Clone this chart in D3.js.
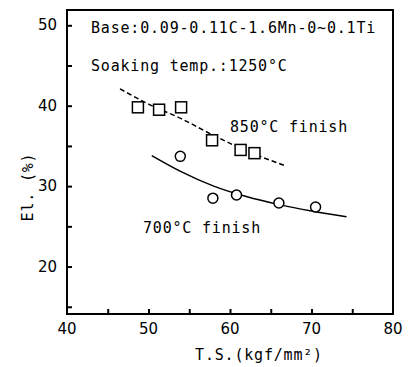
<!DOCTYPE html>
<html>
<head>
<meta charset="utf-8">
<script src="https://cdn.jsdelivr.net/npm/d3@7"></script>
<style>
  body { margin: 0; background: #fff; }
  .mono { font-family: "DejaVu Sans Mono", monospace; font-size: 15px; letter-spacing: 0.8px; }
</style>
</head>
<body>
<svg id="chart" width="410" height="367"></svg>
<script>
// measured points, 850°C finish (squares)
const ts850 = [48.7, 51.3, 54.0, 57.8, 61.3, 63.0];
const el850 = [39.8, 39.5, 39.8, 35.7, 34.5, 34.1];
// measured points, 700°C finish (circles)
const ts700 = [53.9, 57.9, 60.8, 66.0, 70.5];
const el700 = [33.7, 28.5, 28.9, 27.9, 27.4];
// trend lines
const trend850 = [[46.5, 42.1], [50, 40.2], [54, 38.4], [58, 36.3], [62, 34.4], [66.9, 32.5]];
const trend700 = [[50.4, 33.8], [54, 31.8], [58, 30.0], [62, 28.7], [66, 27.7], [70, 26.9], [74.3, 26.2]];
const xTickLabels = [40, 50, 60, 70, 80];
const yTickLabels = [20, 30, 40, 50];

const svg = d3.select("#chart");
const x = d3.scaleLinear().domain([40, 80]).range([67, 393]);
const y = d3.scaleLinear().domain([14.1, 51.9]).range([314, 10]);

// inward ticks every 5 units
const xMinor = d3.range(45, 80, 5);
const yMinor = d3.range(15, 51, 5);

svg.append("g")
  .attr("transform", "translate(0,314)")
  .call(d3.axisTop(x).tickValues(xMinor).tickSize(5).tickFormat(""))
  .call(g => g.select(".domain").remove())
  .selectAll("line").attr("stroke-width", 2);

svg.append("g")
  .attr("transform", "translate(67,0)")
  .call(d3.axisRight(y).tickValues(yMinor).tickSize(5).tickFormat(""))
  .call(g => g.select(".domain").remove())
  .selectAll("line").attr("stroke-width", 2);

// frame
svg.append("rect")
  .attr("x", 67).attr("y", 10)
  .attr("width", 393 - 67).attr("height", 314 - 10)
  .attr("fill", "none").attr("stroke", "#000").attr("stroke-width", 2);

// tick labels
svg.selectAll(".xl").data(xTickLabels).enter().append("text")
  .attr("x", d => x(d)).attr("y", 334)
  .attr("text-anchor", "middle")
  .attr("font-family", "DejaVu Sans").attr("font-size", 15)
  .text(d => d);

svg.selectAll(".yl").data(yTickLabels).enter().append("text")
  .attr("x", 57).attr("y", d => y(d) + 5)
  .attr("text-anchor", "end")
  .attr("font-family", "DejaVu Sans").attr("font-size", 15)
  .text(d => d);

// axis titles
svg.append("text").attr("class", "mono")
  .attr("x", 259).attr("y", 360).attr("text-anchor", "middle")
  .text("T.S.(kgf/mm²)");

svg.append("text").attr("class", "mono")
  .attr("transform", "translate(33,187) rotate(-90)")
  .attr("text-anchor", "middle")
  .text("El. (%)");

// annotations
svg.append("text").attr("class", "mono").attr("x", 91).attr("y", 33)
  .text("Base:0.09-0.11C-1.6Mn-0~0.1Ti");
svg.append("text").attr("class", "mono").attr("x", 91).attr("y", 71)
  .text("Soaking temp.:1250°C");
svg.append("text").attr("class", "mono").attr("x", 230).attr("y", 132)
  .text("850°C finish");
svg.append("text").attr("class", "mono").attr("x", 143).attr("y", 233)
  .text("700°C finish");

// trend lines
const line = d3.line().x(d => x(d[0])).y(d => y(d[1])).curve(d3.curveMonotoneX);

svg.append("path").datum(trend850)
  .attr("d", line).attr("fill", "none").attr("stroke", "#000")
  .attr("stroke-width", 1.5).attr("stroke-dasharray", "5,3");

svg.append("path").datum(trend700)
  .attr("d", line).attr("fill", "none").attr("stroke", "#000")
  .attr("stroke-width", 1.5);

// markers
svg.selectAll(".sq").data(ts850.map((t, i) => [t, el850[i]])).enter().append("rect")
  .attr("x", d => x(d[0]) - 5.5).attr("y", d => y(d[1]) - 5.5)
  .attr("width", 11).attr("height", 11)
  .attr("fill", "#fff").attr("stroke", "#000").attr("stroke-width", 1.5);

svg.selectAll(".ci").data(ts700.map((t, i) => [t, el700[i]])).enter().append("circle")
  .attr("cx", d => x(d[0])).attr("cy", d => y(d[1]))
  .attr("r", 5)
  .attr("fill", "#fff").attr("stroke", "#000").attr("stroke-width", 1.5);
</script>
</body>
</html>
